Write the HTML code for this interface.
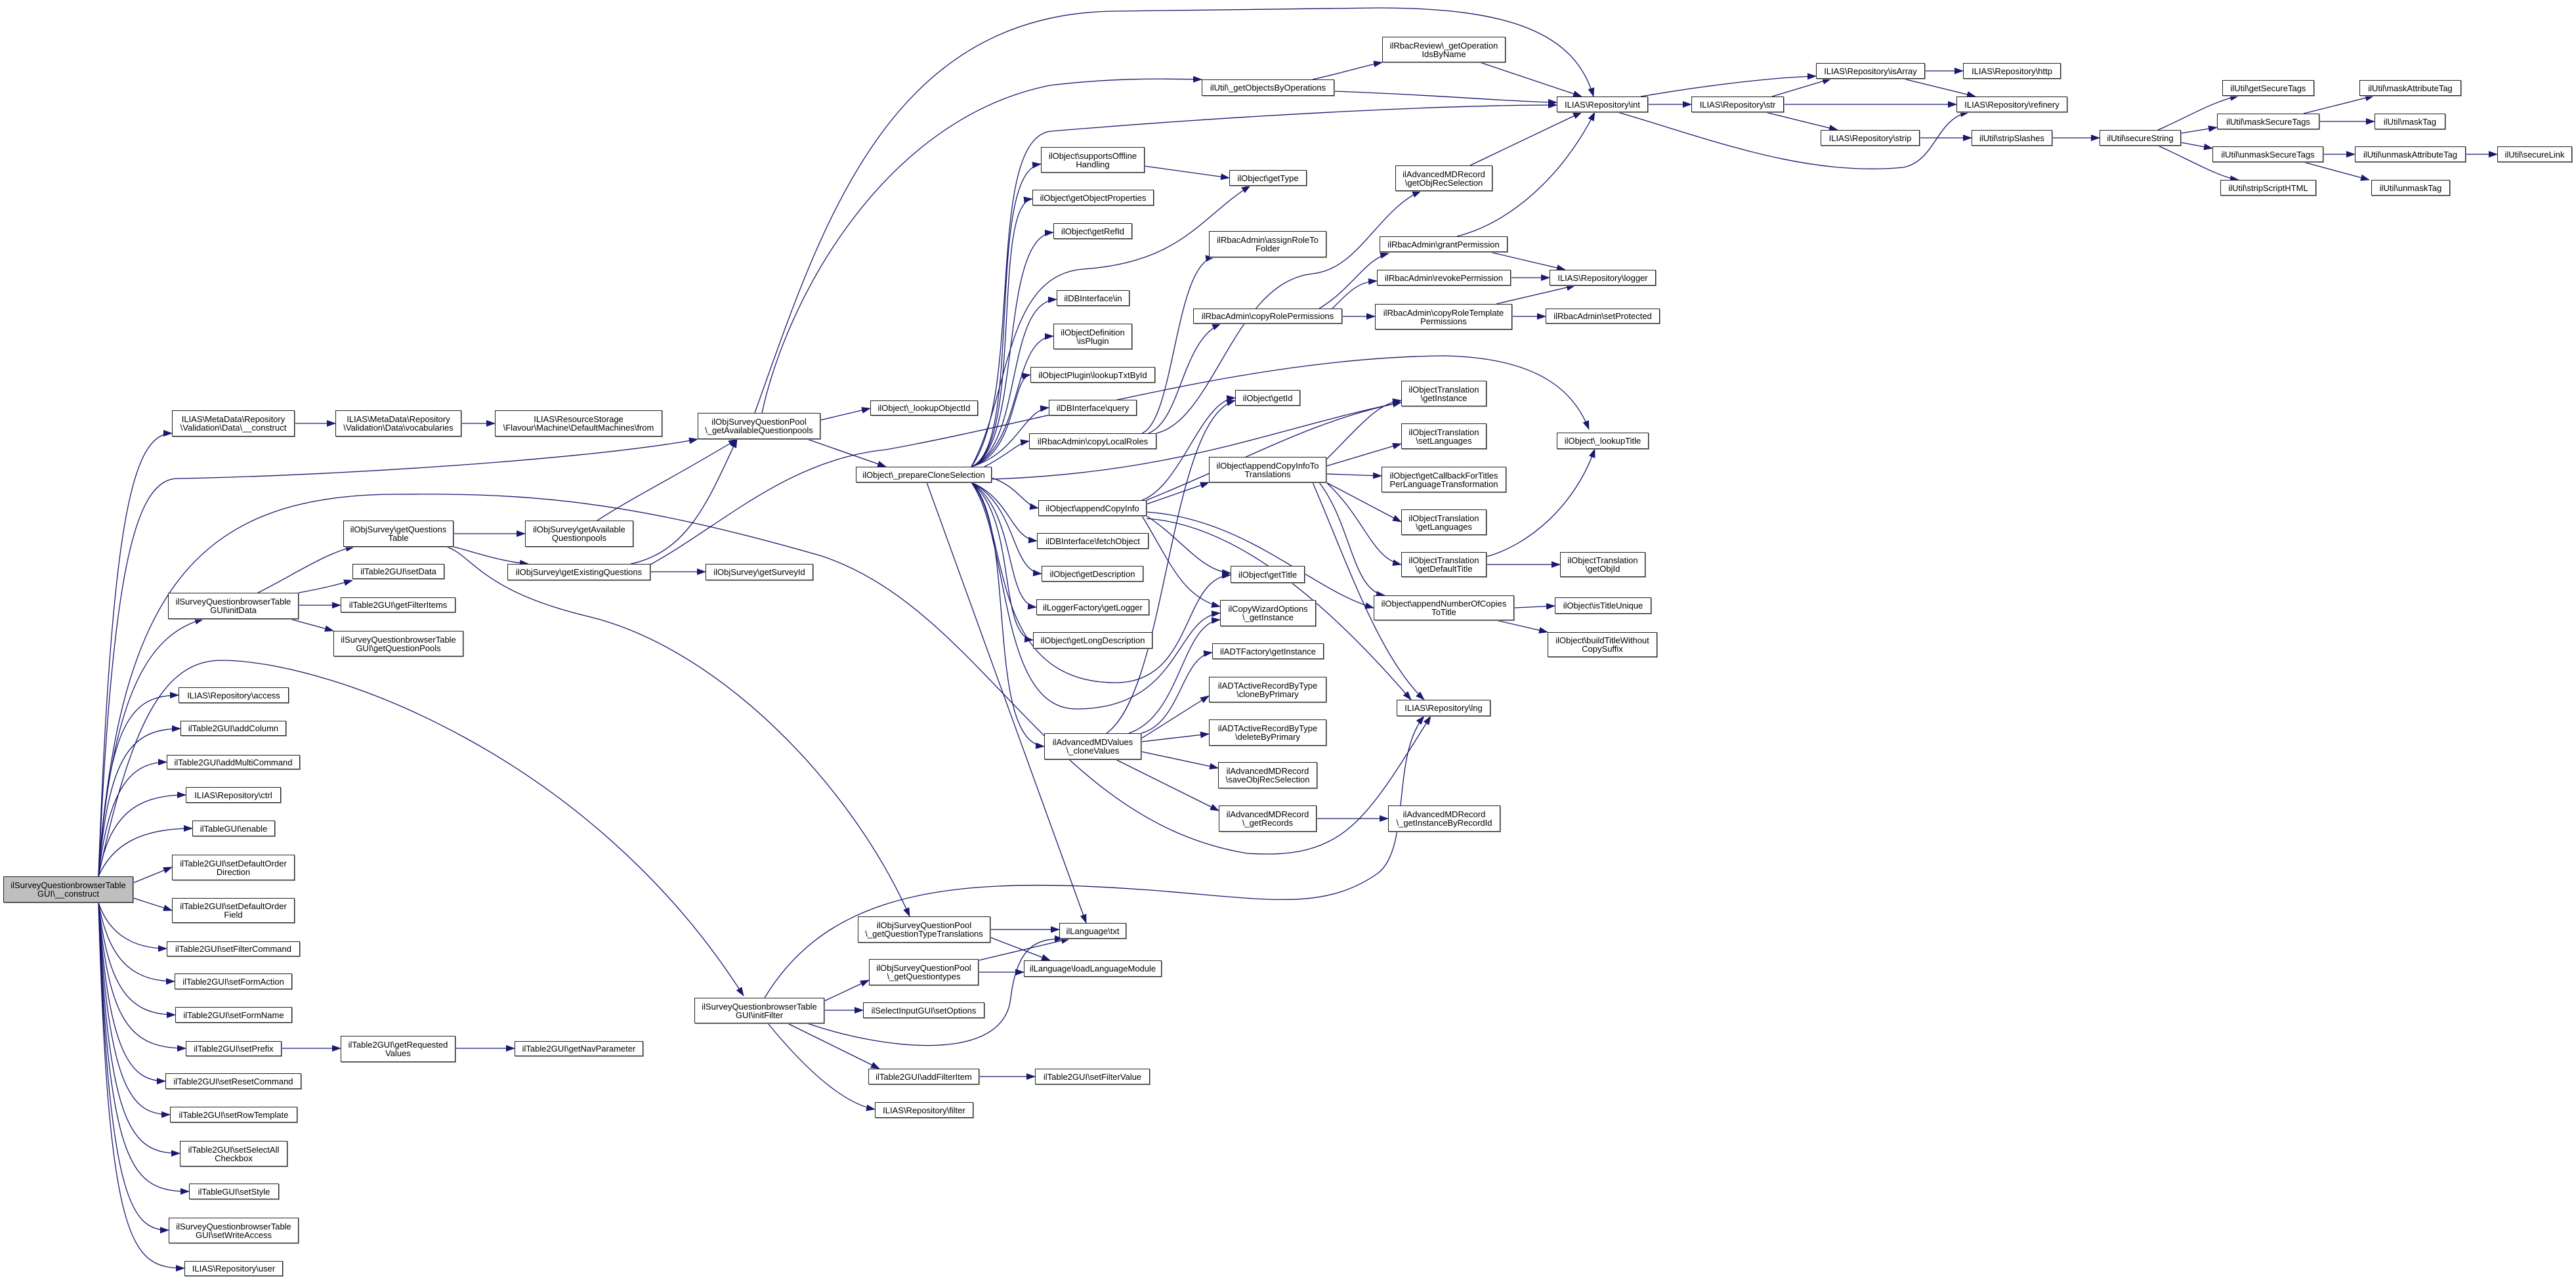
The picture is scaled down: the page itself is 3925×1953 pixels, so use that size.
<!DOCTYPE html>
<html><head><meta charset="utf-8"><style>
body{margin:0;width:3925px;height:1953px;background:#fff;position:relative;overflow:hidden}
svg{position:absolute;left:0;top:0}
.n{position:absolute;box-sizing:border-box;border:1.5px solid #222;background:#fff;font:13px/13px "Liberation Sans",sans-serif;color:#000;text-align:center;display:flex;align-items:center;justify-content:center;white-space:nowrap;box-shadow:1px 1px 0 #999}
</style></head><body>
<svg width="3925" height="1953" viewBox="0 0 3925 1953">
<defs><marker id="a" markerWidth="14" markerHeight="10" refX="13" refY="5" orient="auto" markerUnits="userSpaceOnUse"><path d="M0,0 L14,5 L0,10z" fill="#191970"/></marker></defs>
<g fill="none" stroke="#191970" stroke-width="1.3" marker-end="url(#a)">
<path d="M150 1335 C170 800 200 660 262 660"/>
<path d="M150 1335 C170 900 200 730 270 729 C500 725 900 700 1063 669"/>
<path d="M150 1335 C180 900 300 755 600 753 C800 751 950 760 1252 847 C1500 930 1600 1250 1900 1300 C2050 1310 2080 1250 2180 1091"/>
<path d="M150 1335 C170 1050 230 965 310 943"/>
<path d="M150 1335 C200 1100 250 1006 337 1006 C500 1006 900 1150 1133 1517"/>
<path d="M150 1335 C165 1100 200 1059 272 1059"/>
<path d="M150 1335 C165 1150 200 1110 275 1110"/>
<path d="M150 1335 C165 1200 200 1161 254 1161"/>
<path d="M150 1335 C165 1250 200 1211 283 1211"/>
<path d="M150 1335 C170 1290 210 1262 293 1262"/>
<path d="M203 1345 L262 1321"/>
<path d="M203 1368 L262 1387"/>
<path d="M150 1375 C165 1420 200 1445 254 1445"/>
<path d="M150 1375 C165 1460 200 1495 266 1495"/>
<path d="M150 1375 C165 1510 200 1546 267 1546"/>
<path d="M150 1375 C165 1560 200 1597 283 1597"/>
<path d="M150 1375 C165 1610 200 1647 252 1647"/>
<path d="M150 1375 C165 1660 200 1698 259 1698"/>
<path d="M150 1375 C165 1720 200 1757 274 1757"/>
<path d="M150 1375 C165 1780 200 1815 288 1815"/>
<path d="M150 1375 C165 1830 200 1874 257 1874"/>
<path d="M150 1375 C165 1900 200 1932 281 1932"/>
<path d="M429 1597 L519 1597"/>
<path d="M694 1597 L784 1597"/>
<path d="M449 645 L511 645"/>
<path d="M703 645 L754 645"/>
<path d="M393 903 C440 880 500 840 540 833"/>
<path d="M455 903 Q500 895 537 884"/>
<path d="M455 922 L519 922"/>
<path d="M442 943 L508 961"/>
<path d="M691 813 L800 813"/>
<path d="M691 833 C720 840 760 855 805 859"/>
<path d="M680 833 C720 845 730 900 900 940 C1100 990 1300 1200 1386 1396"/>
<path d="M910 793 C960 760 1040 720 1123 669"/>
<path d="M961 859 C1050 840 1080 760 1123 669"/>
<path d="M991 871 L1075 871"/>
<path d="M991 860 C1100 800 1200 700 1350 685 C1600 640 1900 545 2200 542 C2350 545 2400 600 2421 654"/>
<path d="M1250 640 L1326 622"/>
<path d="M1230 669 L1350 711"/>
<path d="M1161 629 C1200 450 1350 180 1600 130 C1700 118 1780 120 1831 121"/>
<path d="M1150 629 C1250 350 1350 20 1700 17 L2100 12 C2300 12 2400 50 2428 147"/>
<path d="M1480 711 C1560 680 1500 260 1586 250"/>
<path d="M1480 711 C1560 680 1510 310 1573 303"/>
<path d="M1480 711 C1560 680 1520 360 1605 354"/>
<path d="M1480 711 C1560 680 1530 460 1610 456"/>
<path d="M1480 711 C1560 680 1540 515 1605 512"/>
<path d="M1480 711 C1550 690 1540 575 1570 571"/>
<path d="M1480 711 C1550 690 1560 625 1598 621"/>
<path d="M1500 711 C1540 690 1550 675 1568 672"/>
<path d="M1480 711 C1540 600 1530 420 1650 410 C1800 400 1830 330 1905 283"/>
<path d="M1480 711 C1560 600 1500 215 1600 200 C1900 175 2200 160 2372 160"/>
<path d="M1511 728 C1550 740 1560 770 1582 774"/>
<path d="M1480 735 C1540 760 1540 820 1580 824"/>
<path d="M1480 735 C1550 770 1540 870 1587 874"/>
<path d="M1480 735 C1550 780 1530 920 1579 925"/>
<path d="M1480 735 C1550 790 1520 970 1574 975"/>
<path d="M1480 735 C1550 800 1500 1130 1591 1137"/>
<path d="M1480 735 C1540 800 1500 1040 1700 1040 C1820 1040 1800 880 1875 876"/>
<path d="M1480 735 C1540 820 1520 1080 1640 1080 C1800 1080 1790 940 1859 934"/>
<path d="M1412 735 L1655 1406"/>
<path d="M1511 730 C1800 720 1950 650 2135 613"/>
<path d="M1744 253 L1873 271"/>
<path d="M2000 121 C2050 110 2080 100 2106 95"/>
<path d="M2033 139 C2200 145 2300 155 2372 156"/>
<path d="M2255 95 L2410 147"/>
<path d="M2511 159 L2577 159"/>
<path d="M2500 147 C2600 130 2700 118 2767 116"/>
<path d="M2465 171 C2600 210 2750 270 2900 255 C2950 245 2950 180 3000 171"/>
<path d="M2700 147 L2790 120"/>
<path d="M2718 159 L2981 159"/>
<path d="M2690 171 L2800 198"/>
<path d="M2933 108 L2991 108"/>
<path d="M2900 120 L3010 147"/>
<path d="M2925 210 L3004 210"/>
<path d="M3127 210 L3199 210"/>
<path d="M3288 198 C3330 180 3370 155 3411 146"/>
<path d="M3323 203 L3378 194"/>
<path d="M3323 217 L3371 226"/>
<path d="M3288 222 C3330 240 3380 270 3411 274"/>
<path d="M3510 173 L3617 146"/>
<path d="M3534 185 L3618 185"/>
<path d="M3540 235 L3588 235"/>
<path d="M3510 247 L3610 274"/>
<path d="M3757 235 L3805 235"/>
<path d="M2240 252 L2410 171"/>
<path d="M2220 360 C2300 340 2380 270 2430 171"/>
<path d="M2270 384 L2385 411"/>
<path d="M2302 423 L2361 423"/>
<path d="M2280 463 L2400 435"/>
<path d="M2304 482 L2355 482"/>
<path d="M2010 470 C2060 440 2080 395 2116 386"/>
<path d="M2030 470 C2060 440 2070 430 2098 428"/>
<path d="M2045 482 L2095 482"/>
<path d="M1740 660 C1790 640 1790 400 1850 392"/>
<path d="M1750 660 C1800 640 1800 520 1860 493"/>
<path d="M1762 660 C1850 640 1880 430 2000 417 C2070 410 2100 320 2165 291"/>
<path d="M1740 762 C1800 740 1830 610 1882 606"/>
<path d="M1747 768 L1842 735"/>
<path d="M1747 786 C1800 820 1830 870 1875 873"/>
<path d="M1740 786 C1780 850 1800 910 1859 924"/>
<path d="M1747 790 C1900 800 2050 950 2150 1066"/>
<path d="M1747 762 C1900 700 2000 640 2135 613"/>
<path d="M1747 780 C1900 790 2000 900 2093 926"/>
<path d="M2021 700 C2080 640 2100 615 2135 610"/>
<path d="M2021 710 L2135 676"/>
<path d="M2021 722 L2105 725"/>
<path d="M2021 735 L2135 795"/>
<path d="M2021 735 C2080 790 2090 850 2135 860"/>
<path d="M2010 735 C2060 800 2060 900 2110 907"/>
<path d="M2000 735 C2050 850 2100 1000 2170 1066"/>
<path d="M2265 848 C2330 830 2400 770 2430 684"/>
<path d="M2265 860 L2377 860"/>
<path d="M2307 926 L2369 923"/>
<path d="M2280 945 L2358 963"/>
<path d="M1739 1117 C1800 1100 1800 1000 1847 994"/>
<path d="M1739 1125 L1842 1060"/>
<path d="M1739 1130 L1842 1118"/>
<path d="M1739 1145 L1856 1170"/>
<path d="M1700 1157 L1857 1235"/>
<path d="M1720 1117 C1800 1090 1800 950 1859 944"/>
<path d="M1686 1117 C1780 1050 1780 640 1882 610"/>
<path d="M2006 1247 L2115 1247"/>
<path d="M1509 1416 L1614 1416"/>
<path d="M1509 1428 L1600 1463"/>
<path d="M1491 1463 L1630 1430"/>
<path d="M1491 1481 L1560 1481"/>
<path d="M1256 1525 L1324 1493"/>
<path d="M1256 1539 L1315 1539"/>
<path d="M1200 1559 L1340 1628"/>
<path d="M1170 1559 C1220 1620 1280 1680 1333 1690"/>
<path d="M1230 1559 C1350 1600 1530 1620 1540 1520 C1550 1440 1580 1430 1620 1430"/>
<path d="M1165 1520 C1250 1380 1400 1340 1650 1350 C1900 1360 2000 1400 2100 1330 C2150 1290 2120 1150 2170 1091"/>
<path d="M1492 1640 L1577 1640"/>
</g></svg>

<div class="n" style="left:5px;top:1335px;width:198px;height:40px;background:#bfbfbf">ilSurveyQuestionbrowserTable<br>GUI\__construct</div>
<div class="n" style="left:262px;top:625px;width:187px;height:40px">ILIAS\MetaData\Repository<br>\Validation\Data\__construct</div>
<div class="n" style="left:511px;top:625px;width:192px;height:40px">ILIAS\MetaData\Repository<br>\Validation\Data\vocabularies</div>
<div class="n" style="left:754px;top:625px;width:255px;height:40px">ILIAS\ResourceStorage<br>\Flavour\Machine\DefaultMachines\from</div>
<div class="n" style="left:1063px;top:629px;width:187px;height:40px">ilObjSurveyQuestionPool<br>\_getAvailableQuestionpools</div>
<div class="n" style="left:256px;top:903px;width:199px;height:40px">ilSurveyQuestionbrowserTable<br>GUI\initData</div>
<div class="n" style="left:523px;top:793px;width:168px;height:40px">ilObjSurvey\getQuestions<br>Table</div>
<div class="n" style="left:537px;top:859px;width:140px;height:23px">ilTable2GUI\setData</div>
<div class="n" style="left:519px;top:910px;width:175px;height:23px">ilTable2GUI\getFilterItems</div>
<div class="n" style="left:508px;top:961px;width:198px;height:39px">ilSurveyQuestionbrowserTable<br>GUI\getQuestionPools</div>
<div class="n" style="left:800px;top:793px;width:165px;height:40px">ilObjSurvey\getAvailable<br>Questionpools</div>
<div class="n" style="left:773px;top:859px;width:218px;height:25px">ilObjSurvey\getExistingQuestions</div>
<div class="n" style="left:1075px;top:859px;width:164px;height:25px">ilObjSurvey\getSurveyId</div>
<div class="n" style="left:272px;top:1047px;width:168px;height:24px">ILIAS\Repository\access</div>
<div class="n" style="left:275px;top:1098px;width:161px;height:23px">ilTable2GUI\addColumn</div>
<div class="n" style="left:254px;top:1150px;width:203px;height:22px">ilTable2GUI\addMultiCommand</div>
<div class="n" style="left:283px;top:1199px;width:145px;height:24px">ILIAS\Repository\ctrl</div>
<div class="n" style="left:293px;top:1250px;width:126px;height:24px">ilTableGUI\enable</div>
<div class="n" style="left:262px;top:1302px;width:187px;height:39px">ilTable2GUI\setDefaultOrder<br>Direction</div>
<div class="n" style="left:262px;top:1368px;width:187px;height:38px">ilTable2GUI\setDefaultOrder<br>Field</div>
<div class="n" style="left:254px;top:1434px;width:203px;height:23px">ilTable2GUI\setFilterCommand</div>
<div class="n" style="left:266px;top:1483px;width:179px;height:24px">ilTable2GUI\setFormAction</div>
<div class="n" style="left:267px;top:1534px;width:178px;height:24px">ilTable2GUI\setFormName</div>
<div class="n" style="left:283px;top:1586px;width:146px;height:23px">ilTable2GUI\setPrefix</div>
<div class="n" style="left:252px;top:1635px;width:207px;height:24px">ilTable2GUI\setResetCommand</div>
<div class="n" style="left:259px;top:1686px;width:194px;height:24px">ilTable2GUI\setRowTemplate</div>
<div class="n" style="left:274px;top:1738px;width:164px;height:39px">ilTable2GUI\setSelectAll<br>Checkbox</div>
<div class="n" style="left:288px;top:1803px;width:137px;height:24px">ilTableGUI\setStyle</div>
<div class="n" style="left:257px;top:1855px;width:198px;height:39px">ilSurveyQuestionbrowserTable<br>GUI\setWriteAccess</div>
<div class="n" style="left:281px;top:1921px;width:150px;height:23px">ILIAS\Repository\user</div>
<div class="n" style="left:519px;top:1578px;width:175px;height:40px">ilTable2GUI\getRequested<br>Values</div>
<div class="n" style="left:784px;top:1586px;width:196px;height:23px">ilTable2GUI\getNavParameter</div>
<div class="n" style="left:1326px;top:610px;width:164px;height:23px">ilObject\_lookupObjectId</div>
<div class="n" style="left:1304px;top:711px;width:207px;height:24px">ilObject\_prepareCloneSelection</div>
<div class="n" style="left:1831px;top:121px;width:202px;height:25px">ilUtil\_getObjectsByOperations</div>
<div class="n" style="left:1586px;top:224px;width:158px;height:39px">ilObject\supportsOffline<br>Handling</div>
<div class="n" style="left:1573px;top:289px;width:185px;height:24px">ilObject\getObjectProperties</div>
<div class="n" style="left:1605px;top:340px;width:120px;height:24px">ilObject\getRefId</div>
<div class="n" style="left:1873px;top:259px;width:118px;height:24px">ilObject\getType</div>
<div class="n" style="left:1842px;top:352px;width:179px;height:40px">ilRbacAdmin\assignRoleTo<br>Folder</div>
<div class="n" style="left:1610px;top:442px;width:111px;height:24px">ilDBInterface\in</div>
<div class="n" style="left:1605px;top:493px;width:120px;height:39px">ilObjectDefinition<br>\isPlugin</div>
<div class="n" style="left:1570px;top:559px;width:190px;height:24px">ilObjectPlugin\lookupTxtById</div>
<div class="n" style="left:1598px;top:609px;width:134px;height:24px">ilDBInterface\query</div>
<div class="n" style="left:1568px;top:660px;width:194px;height:24px">ilRbacAdmin\copyLocalRoles</div>
<div class="n" style="left:1818px;top:470px;width:227px;height:23px">ilRbacAdmin\copyRolePermissions</div>
<div class="n" style="left:1882px;top:594px;width:99px;height:24px">ilObject\getId</div>
<div class="n" style="left:1842px;top:696px;width:179px;height:39px">ilObject\appendCopyInfoTo<br>Translations</div>
<div class="n" style="left:1582px;top:762px;width:165px;height:24px">ilObject\appendCopyInfo</div>
<div class="n" style="left:1580px;top:812px;width:170px;height:24px">ilDBInterface\fetchObject</div>
<div class="n" style="left:1875px;top:862px;width:113px;height:26px">ilObject\getTitle</div>
<div class="n" style="left:1587px;top:862px;width:155px;height:24px">ilObject\getDescription</div>
<div class="n" style="left:1859px;top:914px;width:146px;height:40px">ilCopyWizardOptions<br>\_getInstance</div>
<div class="n" style="left:1579px;top:913px;width:172px;height:24px">ilLoggerFactory\getLogger</div>
<div class="n" style="left:1574px;top:963px;width:182px;height:25px">ilObject\getLongDescription</div>
<div class="n" style="left:1847px;top:980px;width:170px;height:24px">ilADTFactory\getInstance</div>
<div class="n" style="left:1842px;top:1031px;width:179px;height:39px">ilADTActiveRecordByType<br>\cloneByPrimary</div>
<div class="n" style="left:1842px;top:1096px;width:179px;height:40px">ilADTActiveRecordByType<br>\deleteByPrimary</div>
<div class="n" style="left:1856px;top:1161px;width:151px;height:40px">ilAdvancedMDRecord<br>\saveObjRecSelection</div>
<div class="n" style="left:1857px;top:1227px;width:149px;height:40px">ilAdvancedMDRecord<br>\_getRecords</div>
<div class="n" style="left:1591px;top:1117px;width:148px;height:40px">ilAdvancedMDValues<br>\_cloneValues</div>
<div class="n" style="left:1307px;top:1396px;width:202px;height:40px">ilObjSurveyQuestionPool<br>\_getQuestionTypeTranslations</div>
<div class="n" style="left:1614px;top:1406px;width:102px;height:24px">ilLanguage\txt</div>
<div class="n" style="left:1324px;top:1461px;width:167px;height:40px">ilObjSurveyQuestionPool<br>\_getQuestiontypes</div>
<div class="n" style="left:1560px;top:1463px;width:210px;height:25px">ilLanguage\loadLanguageModule</div>
<div class="n" style="left:1058px;top:1520px;width:198px;height:39px">ilSurveyQuestionbrowserTable<br>GUI\initFilter</div>
<div class="n" style="left:1315px;top:1527px;width:185px;height:24px">ilSelectInputGUI\setOptions</div>
<div class="n" style="left:1323px;top:1628px;width:169px;height:24px">ilTable2GUI\addFilterItem</div>
<div class="n" style="left:1577px;top:1628px;width:175px;height:24px">ilTable2GUI\setFilterValue</div>
<div class="n" style="left:1333px;top:1679px;width:150px;height:24px">ILIAS\Repository\filter</div>
<div class="n" style="left:2106px;top:56px;width:188px;height:39px">ilRbacReview\_getOperation<br>IdsByName</div>
<div class="n" style="left:2372px;top:147px;width:139px;height:24px">ILIAS\Repository\int</div>
<div class="n" style="left:2577px;top:147px;width:141px;height:24px">ILIAS\Repository\str</div>
<div class="n" style="left:2767px;top:96px;width:166px;height:24px">ILIAS\Repository\isArray</div>
<div class="n" style="left:2991px;top:96px;width:149px;height:24px">ILIAS\Repository\http</div>
<div class="n" style="left:2981px;top:147px;width:169px;height:24px">ILIAS\Repository\refinery</div>
<div class="n" style="left:2774px;top:198px;width:151px;height:24px">ILIAS\Repository\strip</div>
<div class="n" style="left:3004px;top:198px;width:123px;height:24px">ilUtil\stripSlashes</div>
<div class="n" style="left:3199px;top:198px;width:124px;height:24px">ilUtil\secureString</div>
<div class="n" style="left:3386px;top:122px;width:140px;height:24px">ilUtil\getSecureTags</div>
<div class="n" style="left:3378px;top:173px;width:156px;height:24px">ilUtil\maskSecureTags</div>
<div class="n" style="left:3371px;top:223px;width:169px;height:24px">ilUtil\unmaskSecureTags</div>
<div class="n" style="left:3383px;top:274px;width:146px;height:24px">ilUtil\stripScriptHTML</div>
<div class="n" style="left:3595px;top:122px;width:155px;height:24px">ilUtil\maskAttributeTag</div>
<div class="n" style="left:3618px;top:173px;width:108px;height:24px">ilUtil\maskTag</div>
<div class="n" style="left:3588px;top:223px;width:169px;height:24px">ilUtil\unmaskAttributeTag</div>
<div class="n" style="left:3613px;top:274px;width:120px;height:24px">ilUtil\unmaskTag</div>
<div class="n" style="left:3805px;top:223px;width:114px;height:24px">ilUtil\secureLink</div>
<div class="n" style="left:2126px;top:252px;width:148px;height:39px">ilAdvancedMDRecord<br>\getObjRecSelection</div>
<div class="n" style="left:2102px;top:360px;width:195px;height:24px">ilRbacAdmin\grantPermission</div>
<div class="n" style="left:2098px;top:411px;width:204px;height:24px">ilRbacAdmin\revokePermission</div>
<div class="n" style="left:2095px;top:463px;width:209px;height:39px">ilRbacAdmin\copyRoleTemplate<br>Permissions</div>
<div class="n" style="left:2361px;top:411px;width:162px;height:24px">ILIAS\Repository\logger</div>
<div class="n" style="left:2355px;top:470px;width:174px;height:23px">ilRbacAdmin\setProtected</div>
<div class="n" style="left:2135px;top:580px;width:130px;height:39px">ilObjectTranslation<br>\getInstance</div>
<div class="n" style="left:2135px;top:645px;width:130px;height:39px">ilObjectTranslation<br>\setLanguages</div>
<div class="n" style="left:2105px;top:711px;width:190px;height:39px">ilObject\getCallbackForTitles<br>PerLanguageTransformation</div>
<div class="n" style="left:2135px;top:776px;width:130px;height:39px">ilObjectTranslation<br>\getLanguages</div>
<div class="n" style="left:2135px;top:841px;width:130px;height:38px">ilObjectTranslation<br>\getDefaultTitle</div>
<div class="n" style="left:2372px;top:659px;width:140px;height:25px">ilObject\_lookupTitle</div>
<div class="n" style="left:2377px;top:841px;width:130px;height:38px">ilObjectTranslation<br>\getObjId</div>
<div class="n" style="left:2093px;top:907px;width:214px;height:38px">ilObject\appendNumberOfCopies<br>ToTitle</div>
<div class="n" style="left:2369px;top:910px;width:147px;height:25px">ilObject\isTitleUnique</div>
<div class="n" style="left:2358px;top:963px;width:167px;height:38px">ilObject\buildTitleWithout<br>CopySuffix</div>
<div class="n" style="left:2128px;top:1066px;width:143px;height:25px">ILIAS\Repository\lng</div>
<div class="n" style="left:2115px;top:1227px;width:171px;height:40px">ilAdvancedMDRecord<br>\_getInstanceByRecordId</div>
</body></html>
